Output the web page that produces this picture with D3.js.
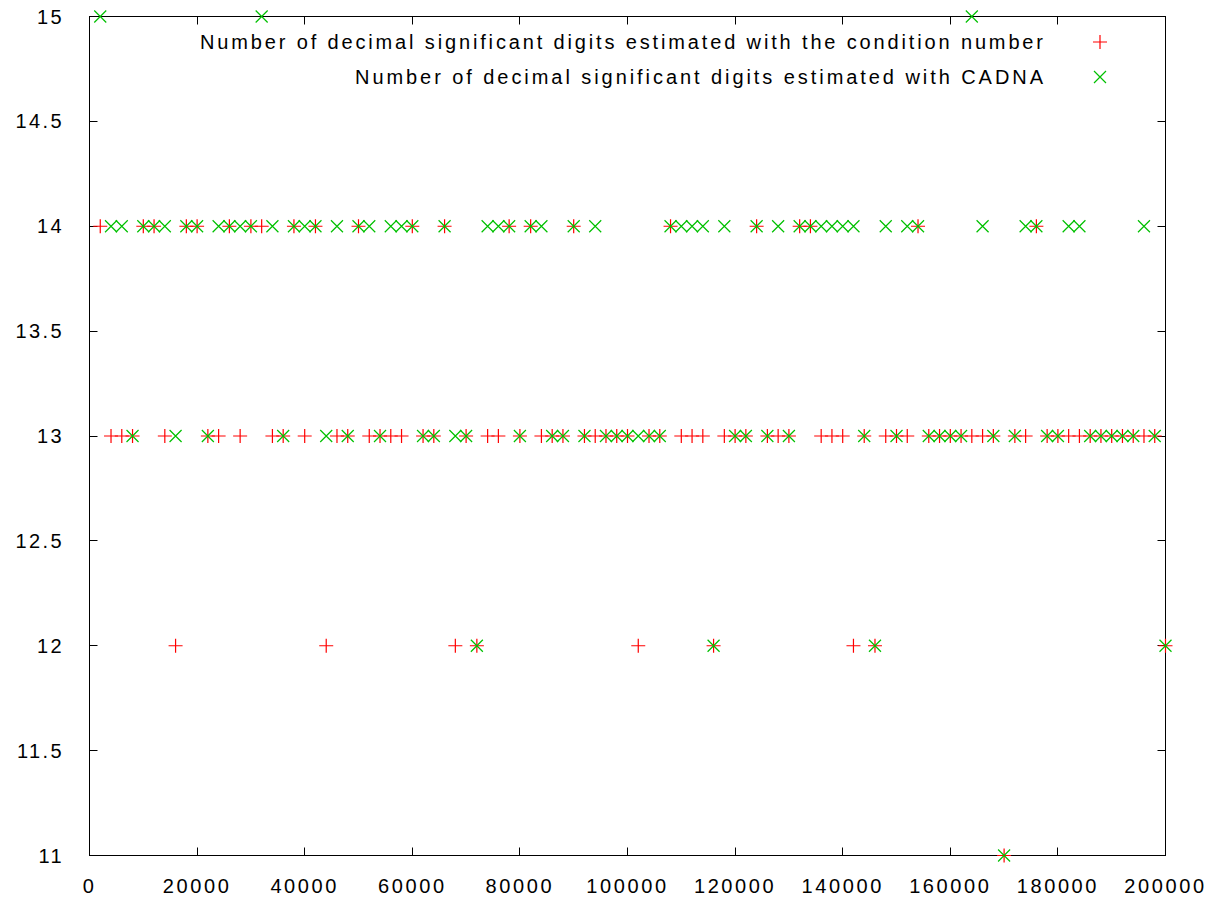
<!DOCTYPE html>
<html>
<head>
<meta charset="utf-8">
<script src="https://cdn.jsdelivr.net/npm/d3@7"></script>
<style>
  html, body { margin: 0; padding: 0; background: #fff; }
  svg { display: block; }
  text { font-family: "Liberation Sans", Arial, sans-serif; fill: #000; }
</style>
</head>
<body>
<svg id="chart" width="1209" height="902"></svg>
<script>
// ---- data ----
const sizes = [
  2000, 4000, 6000, 8000, 10000, 12000, 14000, 16000, 18000, 20000,
  22000, 24000, 26000, 28000, 30000, 32000, 34000, 36000, 38000, 40000,
  42000, 44000, 46000, 48000, 50000, 52000, 54000, 56000, 58000, 60000,
  62000, 64000, 66000, 68000, 70000, 72000, 74000, 76000, 78000, 80000,
  82000, 84000, 86000, 88000, 90000, 92000, 94000, 96000, 98000, 100000,
  102000, 104000, 106000, 108000, 110000, 112000, 114000, 116000, 118000, 120000,
  122000, 124000, 126000, 128000, 130000, 132000, 134000, 136000, 138000, 140000,
  142000, 144000, 146000, 148000, 150000, 152000, 154000, 156000, 158000, 160000,
  162000, 164000, 166000, 168000, 170000, 172000, 174000, 176000, 178000, 180000,
  182000, 184000, 186000, 188000, 190000, 192000, 194000, 196000, 198000, 200000
];
const conditionDigits = [
  14, 13, 13, 13, 14, 14, 13, 12, 14, 14,
  13, 13, 14, 13, 14, 14, 13, 13, 14, 13,
  14, 12, 13, 13, 14, 13, 13, 13, 13, 14,
  13, 13, 14, 12, 13, 12, 13, 13, 14, 13,
  14, 13, 13, 13, 14, 13, 13, 13, 13, 13,
  12, 13, 13, 14, 13, 13, 13, 12, 13, 13,
  13, 14, 13, 13, 13, 14, 14, 13, 13, 13,
  12, 13, 12, 13, 13, 13, 14, 13, 13, 13,
  13, 13, 13, 13, 11, 13, 13, 14, 13, 13,
  13, 13, 13, 13, 13, 13, 13, 13, 13, 12
];
const cadnaDigits = [
  15, 14, 14, 13, 14, 14, 14, 13, 14, 14,
  13, 14, 14, 14, 14, 15, 14, 13, 14, 14,
  14, 13, 14, 13, 14, 14, 13, 14, 14, 14,
  13, 13, 14, 13, 13, 12, 14, 14, 14, 13,
  14, 14, 13, 13, 14, 13, 14, 13, 13, 13,
  13, 13, 13, 14, 14, 14, 14, 12, 14, 13,
  13, 14, 13, 14, 13, 14, 14, 14, 14, 14,
  14, 13, 12, 14, 13, 14, 14, 13, 13, 13,
  13, 15, 14, 13, 11, 13, 14, 14, 13, 13,
  14, 14, 13, 13, 13, 13, 13, 14, 13, 12
];
const xTicks = [0, 20000, 40000, 60000, 80000, 100000, 120000, 140000, 160000, 180000, 200000];
const yTicks = [11, 11.5, 12, 12.5, 13, 13.5, 14, 14.5, 15];
const seriesNames = [
  "Number of decimal significant digits estimated with the condition number",
  "Number of decimal significant digits estimated with CADNA"
];

// ---- layout ----
const svg = d3.select("#chart");
svg.append("rect").attr("width", 1209).attr("height", 902).attr("fill", "#fff");

const mLeft = 89.5, mRight = 1165.5, mTop = 16.5, mBottom = 855.5;
const x = d3.scaleLinear().domain([0, 200000]).range([mLeft, mRight]);
const y = d3.scaleLinear().domain([11, 15]).range([mBottom, mTop]);

const RED = "#ff0000", GREEN = "#00c000";
const plusPath = "M-7,0H7M0,-7V7";
const crossPath = "M-6,-6L6,6M-6,6L6,-6";

// ticks (inward, mirrored)
const tickLen = 8;
const g = svg.append("g");
xTicks.forEach(t => {
  const px = Math.round(x(t) - 0.5) + 0.5;
  g.append("line").attr("x1", px).attr("x2", px).attr("y1", mBottom).attr("y2", mBottom - tickLen)
    .attr("stroke", "#000").attr("stroke-width", 1);
  g.append("line").attr("x1", px).attr("x2", px).attr("y1", mTop).attr("y2", mTop + tickLen)
    .attr("stroke", "#000").attr("stroke-width", 1);
  g.append("text").attr("x", x(t)).attr("y", 893).attr("text-anchor", "middle")
    .attr("font-size", 20).attr("letter-spacing", "2.6px").text(d3.format("d")(t));
});
yTicks.forEach(t => {
  const py = Math.round(y(t) - 0.5) + 0.5;
  g.append("line").attr("x1", mLeft).attr("x2", mLeft + tickLen).attr("y1", py).attr("y2", py)
    .attr("stroke", "#000").attr("stroke-width", 1);
  g.append("line").attr("x1", mRight).attr("x2", mRight - tickLen).attr("y1", py).attr("y2", py)
    .attr("stroke", "#000").attr("stroke-width", 1);
  g.append("text").attr("x", 64).attr("y", y(t) + 7).attr("text-anchor", "end")
    .attr("font-size", 20).attr("letter-spacing", "2.4px").text(String(t));
});

// border
svg.append("rect").attr("x", mLeft).attr("y", mTop).attr("width", mRight - mLeft).attr("height", mBottom - mTop)
  .attr("fill", "none").attr("stroke", "#000").attr("stroke-width", 1);

// data marks
const cond = sizes.map((s, i) => ({ s, v: conditionDigits[i] }));
const cadna = sizes.map((s, i) => ({ s, v: cadnaDigits[i] }));

svg.append("g").selectAll("path").data(cond).join("path")
  .attr("d", plusPath)
  .attr("transform", d => `translate(${x(d.s)},${y(d.v)})`)
  .attr("stroke", RED).attr("stroke-width", 1.2).attr("fill", "none");

svg.append("g").selectAll("path").data(cadna).join("path")
  .attr("d", crossPath)
  .attr("transform", d => `translate(${x(d.s)},${y(d.v)})`)
  .attr("stroke", GREEN).attr("stroke-width", 1.2).attr("fill", "none");

// legend
const legend = svg.append("g");
const legendRows = [
  { name: seriesNames[0], y: 42, path: plusPath, color: RED, x0: 200 },
  { name: seriesNames[1], y: 77, path: crossPath, color: GREEN, x0: 355 }
];
legendRows.forEach(r => {
  legend.append("text").attr("x", 1043).attr("y", r.y + 7).attr("text-anchor", "end")
    .attr("font-size", 20)
    .attr("textLength", 1043 - r.x0).attr("lengthAdjust", "spacing")
    .text(r.name);
  legend.append("path").attr("d", r.path).attr("transform", `translate(1100,${r.y})`)
    .attr("stroke", r.color).attr("stroke-width", 1.2).attr("fill", "none");
});
</script>
</body>
</html>
